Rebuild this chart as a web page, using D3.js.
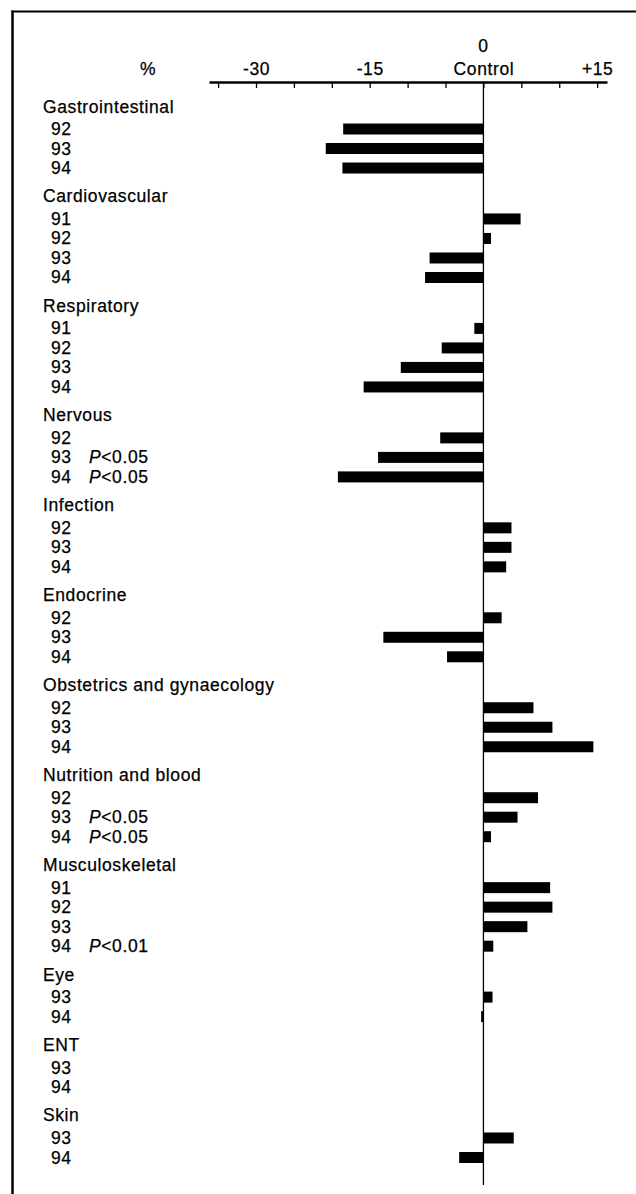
<!DOCTYPE html>
<html>
<head>
<meta charset="utf-8">
<script src="https://cdn.jsdelivr.net/npm/d3@7"></script>
<style>
  html, body { margin: 0; padding: 0; background: #fff; }
  svg { display: block; }
  text { font-family: "Liberation Sans", Arial, Helvetica, sans-serif; font-size: 17.5px; fill: #000; letter-spacing: 0.6px; stroke: #000; stroke-width: 0.25px; }
</style>
</head>
<body>
<div id="chart"></div>
<script>
// ---- data ----
const groups = ["Gastrointestinal", "Cardiovascular", "Respiratory", "Nervous", "Infection",
  "Endocrine", "Obstetrics and gynaecology", "Nutrition and blood", "Musculoskeletal",
  "Eye", "ENT", "Skin"];
const years = [
  ["92", "93", "94"],
  ["91", "92", "93", "94"],
  ["91", "92", "93", "94"],
  ["92", "93", "94"],
  ["92", "93", "94"],
  ["92", "93", "94"],
  ["92", "93", "94"],
  ["92", "93", "94"],
  ["91", "92", "93", "94"],
  ["93", "94"],
  ["93", "94"],
  ["93", "94"]
];
const values = [
  [-18.5, -20.8, -18.6],
  [4.9, 1.0, -7.1, -7.7],
  [-1.2, -5.5, -10.9, -15.8],
  [-5.7, -13.9, -19.2],
  [3.7, 3.7, 3.0],
  [2.4, -13.2, -4.8],
  [6.6, 9.1, 14.5],
  [7.2, 4.5, 1.0],
  [8.8, 9.1, 5.8, 1.3],
  [1.2, -0.3],
  [0, 0],
  [4.0, -3.2]
];
const pValues = [
  ["", "", ""],
  ["", "", "", ""],
  ["", "", "", ""],
  ["", "<0.05", "<0.05"],
  ["", "", ""],
  ["", "", ""],
  ["", "", ""],
  ["", "<0.05", "<0.05"],
  ["", "", "", "<0.01"],
  ["", ""],
  ["", ""],
  ["", ""]
];
const tickValues = [-35, -30, -25, -20, -15, -10, -5, 0, 5, 10, 15];
const tickLabels = { "-30": "-30", "-15": "-15", "0": "Control", "15": "+15" };
const axisDomain = [-36.2, 16.3];
const unitLabel = "%";
const zeroLabel = "0";

// ---- layout ----
const W = 636, H = 1194;
const gapUnits = 1.61;
const headerOffset = 16.5;

const rows = [];
const headers = [];
let slot = 0;
groups.forEach((g, gi) => {
  if (gi > 0) slot += gapUnits;
  headers.push({ name: g, slot: slot });
  years[gi].forEach((yr, ri) => {
    rows.push({ group: g, year: yr, value: values[gi][ri], p: pValues[gi][ri], slot: slot });
    slot += 1;
  });
});
const maxSlot = rows[rows.length - 1].slot;

const x = d3.scaleLinear().domain(axisDomain).range([209, 607]);
const y = d3.scaleLinear().domain([0, maxSlot]).range([129, 1157.5]);

const svg = d3.select("#chart").append("svg")
  .attr("width", W).attr("height", H);

svg.append("rect").attr("width", W).attr("height", H).attr("fill", "#fff");

// frame (top and left)
svg.append("line").attr("x1", 11.5).attr("x2", W).attr("y1", 11.5).attr("y2", 11.5)
  .attr("stroke", "#000").attr("stroke-width", 2);
svg.append("line").attr("x1", 12.5).attr("x2", 12.5).attr("y1", 10.5).attr("y2", H)
  .attr("stroke", "#000").attr("stroke-width", 2.5);

// axis
const axisY = 82;
const axis = d3.axisTop(x)
  .tickValues(tickValues)
  .tickSizeInner(-6)
  .tickSizeOuter(0)
  .tickPadding(7)
  .tickFormat(d => tickLabels[String(d)] || "");
const ag = svg.append("g").attr("transform", `translate(0,${axisY})`).call(axis);
ag.select(".domain").attr("stroke", "#000").attr("stroke-width", 2.4);
ag.selectAll(".tick line").attr("stroke", "#000").attr("stroke-width", 1.3);
ag.selectAll(".tick text")
  .attr("font-family", null).attr("font-size", null)
  .attr("fill", "#000");

svg.append("text").attr("x", x(0)).attr("y", 52).attr("text-anchor", "middle").text(zeroLabel);
svg.append("text").attr("x", 148).attr("y", 75).attr("text-anchor", "middle").text(unitLabel);

// zero line
svg.append("line").attr("x1", x(0)).attr("x2", x(0)).attr("y1", axisY).attr("y2", 1185)
  .attr("stroke", "#000").attr("stroke-width", 1.3);

// headers
svg.selectAll("text.header").data(headers).enter().append("text")
  .attr("class", "header")
  .attr("x", 43)
  .attr("y", d => y(d.slot) - headerOffset)
  .text(d => d.name);

// row labels
svg.selectAll("text.year").data(rows).enter().append("text")
  .attr("class", "year")
  .attr("x", 51)
  .attr("y", d => y(d.slot) + 6)
  .text(d => d.year);

const pg = svg.selectAll("text.pval").data(rows.filter(d => d.p)).enter().append("text")
  .attr("class", "pval")
  .attr("x", 89)
  .attr("y", d => y(d.slot) + 6);
pg.append("tspan").attr("font-style", "italic").text("P");
pg.append("tspan").text(d => d.p);

// bars
const barH = 11;
svg.selectAll("rect.bar").data(rows.filter(d => d.value !== 0)).enter().append("rect")
  .attr("class", "bar")
  .attr("x", d => Math.min(x(0), x(d.value)))
  .attr("width", d => Math.abs(x(d.value) - x(0)))
  .attr("y", d => y(d.slot) - barH / 2)
  .attr("height", barH)
  .attr("fill", "#000");
</script>
</body>
</html>
